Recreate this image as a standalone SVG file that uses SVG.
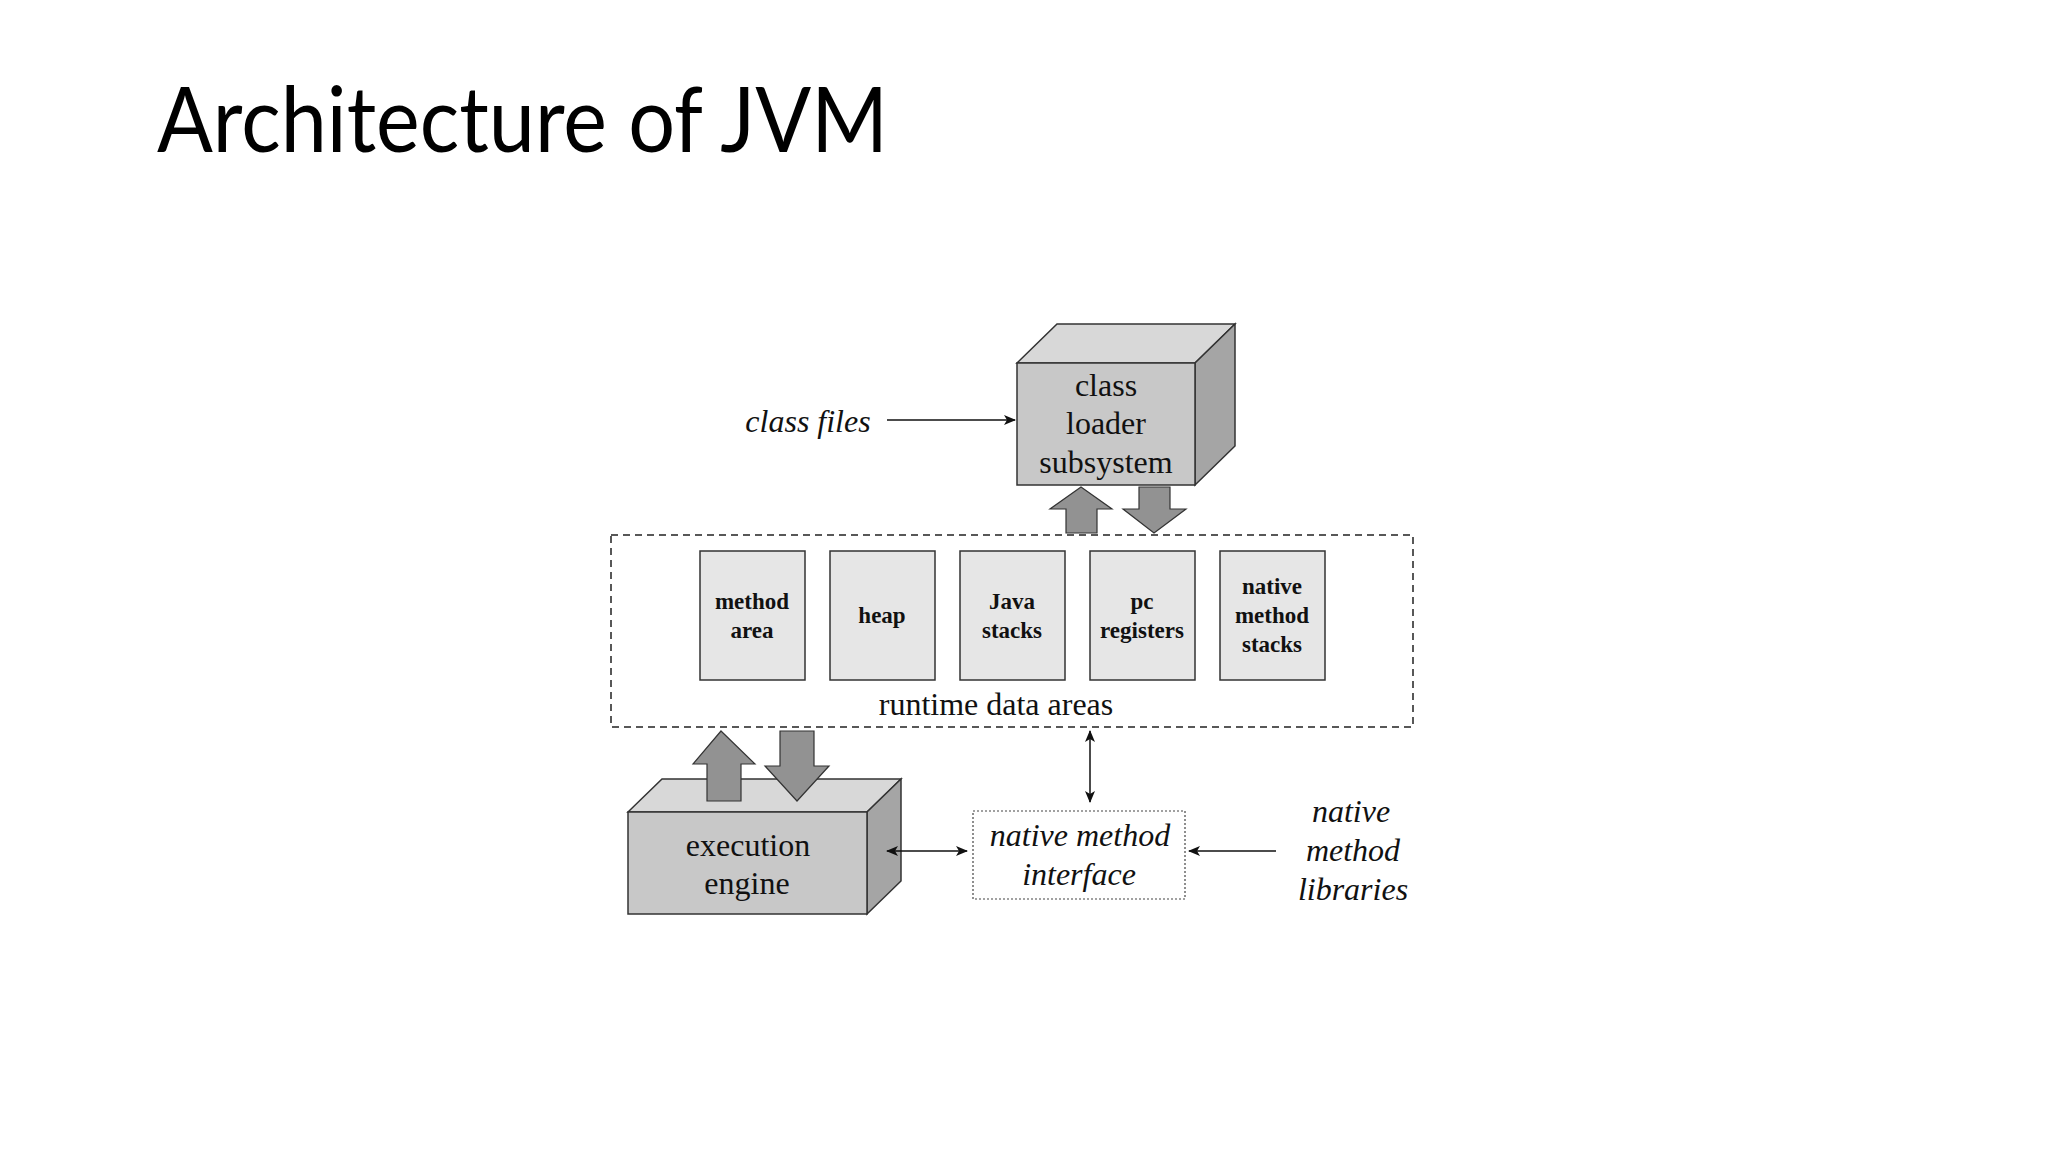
<svg xmlns="http://www.w3.org/2000/svg" width="2048" height="1152" viewBox="0 0 2048 1152">
<defs>
<style>
.title{font-family:Lato,"Open Sans",sans-serif;font-size:92px;fill:#000}
.lbl{font-family:"Liberation Serif","Times New Roman",serif;font-size:32px;fill:#111;text-anchor:middle}
.it{font-style:italic}
.sm{font-family:"Liberation Serif","Times New Roman",serif;font-size:23px;font-weight:bold;fill:#111;text-anchor:middle}
.front{fill:#c8c8c8;stroke:#333;stroke-width:1.5}
.top{fill:#d8d8d8;stroke:#333;stroke-width:1.5}
.side{fill:#a5a5a5;stroke:#333;stroke-width:1.5}
.fat{fill:#929292;stroke:#333;stroke-width:1.2}
.mem{fill:#e6e6e6;stroke:#333;stroke-width:1.5}
.ln{stroke:#111;stroke-width:1.5;fill:none}
</style>
<marker id="ah" viewBox="0 0 12 10" refX="11" refY="5" markerWidth="12" markerHeight="10" markerUnits="userSpaceOnUse" orient="auto-start-reverse">
<path d="M0,0 L12,5 L0,10 L3,5 Z" fill="#111"/>
</marker>
</defs>
<rect width="2048" height="1152" fill="#fff"/>
<text class="title" x="157" y="152" textLength="731" lengthAdjust="spacingAndGlyphs">Architecture of JVM</text>

<g id="class-files">
<text class="lbl it" x="808" y="432">class files</text>
</g>

<g id="class-loader">
<polygon class="top" points="1017,363 1057,324 1235,324 1195,363"/>
<polygon class="side" points="1195,363 1235,324 1235,446 1195,485"/>
<rect class="front" x="1017" y="363" width="178" height="122"/>
<text class="lbl" x="1106" y="396">class</text>
<text class="lbl" x="1106" y="434">loader</text>
<text class="lbl" x="1106" y="473">subsystem</text>
</g>

<g id="runtime-data-areas">
<rect x="611" y="535" width="802" height="192" fill="none" stroke="#222" stroke-width="1.5" stroke-dasharray="7,5"/>
<text class="lbl" x="996" y="715">runtime data areas</text>
</g>
<g id="method-area">
<rect class="mem" x="700" y="551" width="105" height="129"/>
<text class="sm" x="752" y="609">method</text>
<text class="sm" x="752" y="638">area</text>
</g>
<g id="heap">
<rect class="mem" x="830" y="551" width="105" height="129"/>
<text class="sm" x="882" y="623">heap</text>
</g>
<g id="java-stacks">
<rect class="mem" x="960" y="551" width="105" height="129"/>
<text class="sm" x="1012" y="609">Java</text>
<text class="sm" x="1012" y="638">stacks</text>
</g>
<g id="pc-registers">
<rect class="mem" x="1090" y="551" width="105" height="129"/>
<text class="sm" x="1142" y="609">pc</text>
<text class="sm" x="1142" y="638">registers</text>
</g>
<g id="native-method-stacks">
<rect class="mem" x="1220" y="551" width="105" height="129"/>
<text class="sm" x="1272" y="594">native</text>
<text class="sm" x="1272" y="623">method</text>
<text class="sm" x="1272" y="652">stacks</text>
</g>

<g id="execution-engine">
<polygon class="top" points="628,812 662,779 901,779 867,812"/>
<polygon class="side" points="867,812 901,779 901,881 867,914"/>
<rect class="front" x="628" y="812" width="239" height="102"/>
<text class="lbl" x="748" y="856">execution</text>
<text class="lbl" x="747" y="894">engine</text>
</g>

<g id="native-method-interface">
<rect x="973" y="811" width="212" height="88" fill="#fff" stroke="#444" stroke-width="1.2" stroke-dasharray="2,2"/>
<text class="lbl it" x="1080" y="846">native method</text>
<text class="lbl it" x="1079" y="885">interface</text>
</g>

<g id="native-method-libraries">
<text class="lbl it" x="1351" y="822">native</text>
<text class="lbl it" x="1353" y="861">method</text>
<text class="lbl it" x="1353" y="900">libraries</text>
</g>

<g id="connectors">
<line class="ln" x1="887" y1="420" x2="1015" y2="420" marker-end="url(#ah)"/>
<polygon class="fat" points="1081,487 1112,509 1097,509 1097,533 1066,533 1066,509 1050,509"/>
<polygon class="fat" points="1139,487 1170,487 1170,509 1186,509 1154,533 1123,509 1139,509"/>
<polygon class="fat" points="721,731 755,764 741,764 741,801 707,801 707,764 693,764"/>
<polygon class="fat" points="780,731 814,731 814,766 829,766 797,801 765,766 780,766"/>
<line class="ln" x1="1090" y1="731" x2="1090" y2="802" marker-start="url(#ah)" marker-end="url(#ah)"/>
<line class="ln" x1="887" y1="851" x2="967" y2="851" marker-start="url(#ah)" marker-end="url(#ah)"/>
<line class="ln" x1="1276" y1="851" x2="1189" y2="851" marker-end="url(#ah)"/>
</g>
</svg>
